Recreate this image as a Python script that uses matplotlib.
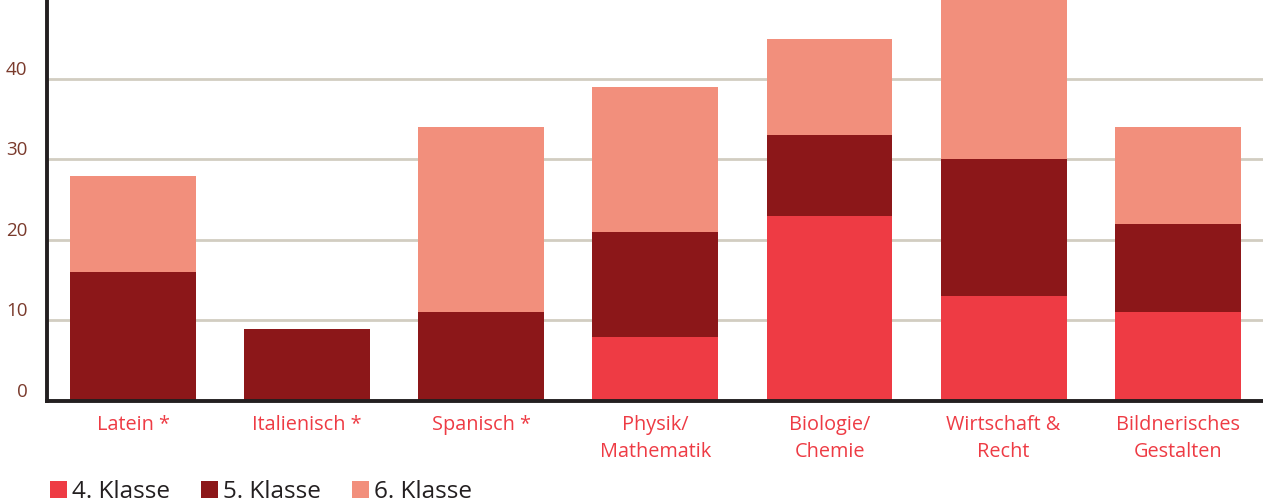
import numpy as np
import matplotlib.pyplot as plt

faecher = ['Latein *', 'Italienisch *', 'Spanisch *', 'Physik/\nMathematik',
           'Biologie/\nChemie', 'Wirtschaft &\nRecht', 'Bildnerisches\nGestalten']
klasse4 = [0, 0, 0, 8, 23, 13, 11]
klasse5 = [16, 9, 11, 13, 10, 17, 11]
klasse6 = [12, 0, 23, 18, 12, 20, 12]
serien = ['4. Klasse', '5. Klasse', '6. Klasse']
farben = ['#ee3b44', '#8c1719', '#f28f7c']
y_ticks = [0, 10, 20, 30, 40]

plt.rcParams['font.family'] = ['Open Sans', 'DejaVu Sans']

fig = plt.figure(figsize=(12.63, 5.03), dpi=100)
ax = fig.add_axes([0.0372, 0.2028, 0.9628, 0.7972])

x = np.arange(len(faecher))
unten = np.zeros(len(faecher))
handles = []
for werte, name, farbe in zip([klasse4, klasse5, klasse6], serien, farben):
    b = ax.bar(x, werte, width=0.723, bottom=unten, color=farbe, label=name, zorder=3)
    handles.append(b)
    unten += np.array(werte)

ax.set_xlim(-0.495, 6.49)
ax.set_ylim(0, 49.8)
ax.set_yticks(y_ticks)
ax.set_yticklabels([str(v) for v in y_ticks], color='#7a3a2c', fontsize=13.5, va='bottom')
ax.yaxis.grid(True, color='#d2cdc1', linewidth=2, zorder=0)
ax.tick_params(axis='y', length=0, pad=14)
ax.tick_params(axis='x', length=0, pad=10)
ax.set_xticks(x)
ax.set_xticklabels(faecher, color='#ee3b44', fontsize=14.3, linespacing=1.5)

for s in ['top', 'right']:
    ax.spines[s].set_visible(False)
for s in ['left', 'bottom']:
    ax.spines[s].set_linewidth(2.8)
    ax.spines[s].set_color('#231f20')
    ax.spines[s].set_zorder(4)

# Legende unten links
fig.legend(handles=handles, labels=serien, loc='lower left', bbox_to_anchor=(0.022, -0.046),
           ncol=3, frameon=False, fontsize=17.5, handlelength=0.7, handleheight=0.7,
           handletextpad=0.2, columnspacing=1.3, labelcolor='#231f20')

fig.savefig('out.png', dpi=100)
